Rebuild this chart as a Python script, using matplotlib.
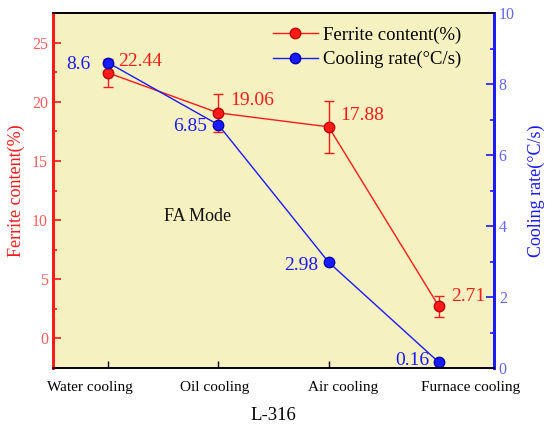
import matplotlib
matplotlib.use("Agg")
import matplotlib.pyplot as plt
from matplotlib.ticker import MultipleLocator
from matplotlib.transforms import ScaledTranslation

plt.rcParams['font.family'] = ['Liberation Serif', 'DejaVu Serif']

categories = ["Water cooling", "Oil cooling", "Air cooling", "Furnace cooling"]
ferrite = [22.44, 19.06, 17.88, 2.71]
ferrite_err = [1.2, 1.6, 2.2, 0.9]
cooling = [8.6, 6.85, 2.98, 0.16]
ferrite_labels = ["22.44", "19.06", "17.88", "2.71"]
cooling_labels = ["8.6", "6.85", "2.98", "0.16"]

RED = '#FF1A1A'
BLUE = '#1A1AFF'
RED_T = '#FF5C5C'
BLUE_T = '#6464FF'

fig = plt.figure(figsize=(5.5, 4.34), dpi=100)
ax = fig.add_axes([53/550, 1-368/434, (494-53)/550, (368-13)/434])
ax.set_facecolor('#F6F1C0')
ax2 = ax.twinx()

x = list(range(len(categories)))

l1 = ax.errorbar(x, ferrite, yerr=ferrite_err, color=RED, lw=1, marker='o', ms=7.5,
                 mfc=RED, mec='#C00000', capsize=3.5, elinewidth=1, capthick=1,
                 label='Ferrite content(%)')
l2, = ax2.plot(x, cooling, color=BLUE, lw=1, marker='o', ms=7.5, mfc=BLUE, mec='#0000B0',
               label='Cooling rate(°C/s)')

ax.set_xlim(-0.5, 3.5)
ax.set_ylim(-2.5, 27.5)
ax2.set_ylim(0, 10)

ax.set_xticks(x)
ax.set_xticklabels(categories, fontsize=11)
ax.tick_params(axis='x', direction='in', length=5, width=1, pad=9, colors='black')
label_shift_px = [-18, -4, 14, 32]
for lab, dx in zip(ax.get_xticklabels(), label_shift_px):
    lab.set_transform(lab.get_transform() + ScaledTranslation(dx / 100, 0, fig.dpi_scale_trans))

ax.yaxis.set_major_locator(MultipleLocator(5))
ax.yaxis.set_minor_locator(MultipleLocator(2.5))
ax.tick_params(axis='y', which='major', direction='in', length=6, width=1.2,
               color=RED, labelcolor=RED_T, labelsize=11.5)
ax.tick_params(axis='y', which='minor', direction='in', length=3, width=1.2, color=RED)

ax2.yaxis.set_major_locator(MultipleLocator(2))
ax2.yaxis.set_minor_locator(MultipleLocator(1))
ax2.tick_params(axis='y', which='major', direction='in', length=6, width=1.2,
                color=BLUE, labelcolor=BLUE_T, labelsize=11.5)
ax2.tick_params(axis='y', which='minor', direction='in', length=3, width=1.2, color=BLUE)

for a in (ax, ax2):
    a.spines['left'].set_color(RED)
    a.spines['left'].set_linewidth(2)
    a.spines['right'].set_color(BLUE)
    a.spines['right'].set_linewidth(2)
    a.spines['top'].set_linewidth(1.2)
    a.spines['bottom'].set_linewidth(1.2)

ax.set_ylabel('Ferrite content(%)', color=RED, fontsize=13, labelpad=5)
ax2.set_ylabel('Cooling rate(°C/s)', color=BLUE, fontsize=13, labelpad=9)
ax.set_xlabel('L-316', fontsize=13.5, labelpad=10)

f_off = [(10, 11), (12, 12), (12, 11), (12, 10)]
c_off = [(-18, -2), (-11, -2), (-10, -3), (-9, 2)]
for i in x:
    ax.annotate(ferrite_labels[i], (x[i], ferrite[i]), xytext=f_off[i], textcoords='offset pixels',
                ha='left', va='center', color=RED, fontsize=14)
    ax2.annotate(cooling_labels[i], (x[i], cooling[i]), xytext=c_off[i], textcoords='offset pixels',
                 ha='right', va='center', color=BLUE, fontsize=14)

ax.text(0.81, 10.3, 'FA Mode', fontsize=13, ha='center', va='center', color='#111111')

ax2.legend([l1[0], l2], ['Ferrite content(%)', 'Cooling rate(°C/s)'], loc='upper left',
           bbox_to_anchor=(0.46, 1.01), frameon=False, fontsize=13.5, handlelength=2.4,
           labelspacing=0.4, handletextpad=0.3)

fig.savefig('out.png', dpi=100)
